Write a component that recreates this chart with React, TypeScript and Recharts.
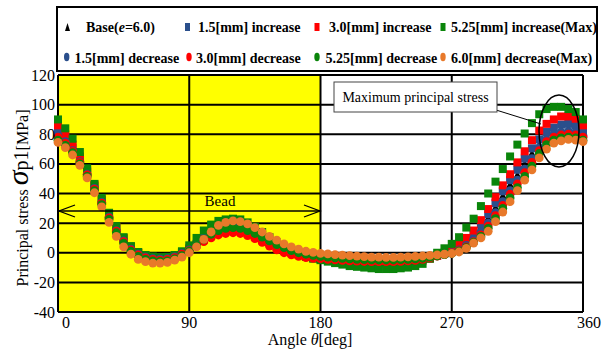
import React from "react";
import {
  ScatterChart,
  Scatter,
  XAxis,
  YAxis,
  ReferenceArea,
  ReferenceLine,
} from "recharts";

const angles = [
  0, 5, 10, 15, 20, 25, 30, 35, 40, 45, 50, 55, 60, 65, 70, 75, 80, 85, 90,
  95, 100, 105, 110, 115, 120, 125, 130, 135, 140, 145, 150, 155, 160, 165,
  170, 175, 180, 185, 190, 195, 200, 205, 210, 215, 220, 225, 230, 235, 240,
  245, 250, 255, 260, 265, 270, 275, 280, 285, 290, 295, 300, 305, 310, 315,
  320, 325, 330, 335, 340, 345, 350, 355, 360,
];

// Base(e=6.0)
const baseVals = [
  80, 75.5, 69.5, 62, 53.5, 44, 34.5, 24.5, 15.5, 8.5, 3, -0.5,
  -2.5, -3.5, -3.8, -3.5, -2.2, 0, 2.5,
  5.5, 9.5, 12.5, 14.5, 15.5, 16, 15.5, 14, 12, 9.5, 7, 4.5, 2.5, 0.5, -1, -2.2, -3,
  -3.5, -4, -4.5, -5, -5.3, -5.5, -5.8, -6, -6, -6, -6, -5.7, -5.3, -5, -4.3, -3.3, -2, -0.8,
  0.5, 3, 6.5, 11, 17, 23.5, 30.5, 38.5, 46, 52.5, 60, 67, 73, 78, 81.5, 83, 83.5, 82.5, 80,
];

const inc15 = [
  82, 77.5, 71, 63, 54.5, 45, 35.5, 25.5, 16.5, 9.5, 3.5, 0,
  -2, -3, -3.5, -3, -2, 0.3, 3,
  6, 10, 13, 15.5, 16.5, 17, 16.5, 15, 13, 10.5, 7.5, 5, 2.5, 0.5, -1, -2.3, -3.2,
  -3.8, -4.3, -4.8, -5.2, -5.6, -5.8, -6, -6.2, -6.3, -6.3, -6.2, -6, -5.6, -5.2, -4.5, -3.5, -2, -0.3,
  1.5, 4.5, 8.5, 13, 19, 26, 33.5, 41.5, 49, 56, 63.5, 70.5, 76.5, 81.5, 84.5, 86.5, 87, 86, 82,
];

const inc30 = [
  86, 80, 73, 65, 55.5, 46, 36, 26, 17.5, 10, 4, 0,
  -2, -3, -3.5, -3, -2, 0, 2.5,
  5.5, 9, 12, 14, 15, 15.5, 15, 13.5, 11.5, 9, 6.5, 4, 2, 0, -1.5, -2.7, -3.7,
  -4.3, -4.8, -5.3, -5.8, -6.2, -6.5, -6.8, -7, -7.2, -7.2, -7.2, -7, -6.7, -6.2, -5.3, -4, -2, 0,
  2.5, 6, 10, 15, 22, 29.5, 37.5, 45.5, 53, 61, 68.5, 76, 82.5, 87, 90, 92, 92, 90.5, 86,
];

const inc525 = [
  90, 84, 77, 68, 57, 46.5, 37, 27, 18, 10.5, 4.5, 0.5,
  -1.5, -2.5, -3, -2.8, -1.5, 1, 5,
  10, 15, 19, 21.5, 22.5, 23, 22.5, 20.5, 17.5, 14, 10.5, 7, 4, 1.5, -0.5, -2.5, -4,
  -5, -6, -7, -8, -9, -9.5, -10, -10.5, -11, -11, -11, -10.5, -10, -9, -7.5, -4, 0, 3,
  6, 10.5, 17, 23, 31.5, 40, 48, 56.5, 65, 73, 80.5, 87.5, 93.5, 97, 98.5, 98.5, 97, 95, 90,
];

const dec15 = [
  79, 75, 69, 61.5, 53, 43.5, 34, 24, 15, 8, 2.5, -1,
  -3, -4, -4.3, -4, -2.8, -0.5, 2,
  5, 8.5, 11.5, 13.5, 14.5, 15, 14.5, 13, 11, 8.5, 6, 3.5, 1.5, 0, -1.5, -2.5, -3.2,
  -3.5, -4, -4.3, -4.7, -5, -5.2, -5.4, -5.5, -5.5, -5.5, -5.5, -5.3, -5, -4.7, -4, -3.2, -2, -1,
  0, 2, 5, 9, 14, 20, 27, 34.5, 42, 49, 56.5, 63.5, 71, 76.5, 80, 81.5, 82, 81.5, 79,
];

const dec30 = [
  78, 74, 68.5, 61, 52.5, 43, 33.5, 23.5, 14.5, 7.5, 2, -1.5,
  -3.5, -4.5, -5, -4.5, -3.3, -1, 1.5,
  4.5, 7.5, 10, 12, 13, 13.5, 13, 11.5, 9.5, 7, 4.5, 2, 0, -1.5, -2.5, -3.3, -3.8,
  -4, -4.4, -4.8, -5.2, -5.5, -5.7, -5.9, -6, -6, -6, -6, -5.8, -5.5, -5.1, -4.5, -3.5, -2.3, -1.2,
  -0.3, 1.5, 4, 7.5, 12, 18, 25, 32, 39.5, 46.5, 54, 61, 69, 75, 78, 79.5, 80, 79.5, 78,
];

const dec525 = [
  76, 72.5, 67.5, 60, 51.5, 42, 32.5, 22.5, 13.5, 6.5, 1, -2.5,
  -4.5, -5.5, -5.8, -5.5, -4.2, -2, 1,
  5, 9, 12.5, 15, 16.5, 17, 16.5, 15, 13, 10.5, 8, 5.5, 3.5, 1.5, 0, -1, -1.8,
  -2.5, -3, -3.4, -3.8, -4.1, -4.4, -4.6, -4.8, -4.9, -4.9, -4.9, -4.7, -4.5, -4.2, -3.7, -3, -2.2, -1.3,
  -0.5, 1, 3.5, 7, 11, 16.5, 23, 30, 37, 44, 51.5, 58.5, 67, 73, 76, 77.5, 78, 77.5, 76,
];

const dec60 = [
  74.5, 71, 66, 59, 50.5, 40.5, 31, 20.5, 11, 4, -1, -4.5,
  -6, -7, -7, -6.5, -5, -3, 0,
  4, 9, 14, 18.5, 20.5, 21.5, 21, 19.5, 17, 14, 11, 8.5, 6, 4, 2.5, 1, 0.3,
  -0.4, -0.8, -1.2, -1.6, -2, -2.3, -2.6, -2.9, -3, -3.1, -3.1, -3, -2.8, -2.5, -2.2, -1.8, -1.4, -1,
  -0.5, 0.5, 3, 6.5, 10, 14.5, 21, 27.5, 34.5, 42, 49, 56, 64, 70, 74, 75.5, 76.5, 76, 75,
];

const xTicks = [0, 90, 180, 270, 360];
const yTicks = [-40, -20, 0, 20, 40, 60, 80, 100, 120];

const BLUE = "#2B4F8C";
const RED = "#FF0000";
const GREEN = "#0A850A";
const ORANGE = "#E8792A";
const FONT = "'Liberation Serif', 'Times New Roman', serif";

const toPoints = (vals: number[]) => angles.map((a, i) => ({ x: a, y: vals[i] }));

const square = (color: string) => (p: any) => (
  <rect x={p.cx - 4} y={p.cy - 4} width={8} height={8} fill={color} />
);
const dot = (color: string) => (p: any) => (
  <circle cx={p.cx} cy={p.cy} r={4.4} fill={color} />
);
const triangle = (p: any) => (
  <polygon
    points={`${p.cx},${p.cy - 4.5} ${p.cx + 4},${p.cy + 3.5} ${p.cx - 4},${p.cy + 3.5}`}
    fill="#000"
  />
);

const XTick = (props: any) => {
  const { x, y, payload } = props;
  const shift = payload.value === 0 ? 8 : payload.value === 360 ? 6 : 0;
  return (
    <text x={x + shift} y={y} dy={16} textAnchor="middle" fontSize={16} fontFamily={FONT} fill="#000">
      {payload.value}
    </text>
  );
};

const YTick = (props: any) => {
  const { x, y, payload } = props;
  return (
    <text x={x} y={y} dy={5.5} textAnchor="end" fontSize={16} fontFamily={FONT} fill="#000">
      {payload.value}
    </text>
  );
};

const legendRow1 = [
  { kind: "tri", color: "#000", mx: 67.5, tx: 86 },
  { kind: "sq", color: BLUE, mx: 187.5, tx: 198, label: "1.5[mm] increase" },
  { kind: "sq", color: RED, mx: 317, tx: 329, label: "3.0[mm] increase" },
  { kind: "sq", color: GREEN, mx: 443, tx: 451, label: "5.25[mm] increase(Max)" },
];
const legendRow2 = [
  { color: BLUE, mx: 66.7, tx: 74.5, label: "1.5[mm] decrease" },
  { color: RED, mx: 189, tx: 196, label: "3.0[mm] decrease" },
  { color: GREEN, mx: 317, tx: 325.5, label: "5.25[mm] decrease" },
  { color: ORANGE, mx: 443, tx: 451, label: "6.0[mm] decrease(Max)" },
];

function Overlay() {
  return (
    <svg
      width={614}
      height={351}
      style={{ position: "absolute", left: 0, top: 0, pointerEvents: "none" }}
      fontFamily={FONT}
    >
      {/* legend */}
      <rect x={57} y={7} width={540} height={64} fill="#fff" stroke="#000" strokeWidth={2} />
      {legendRow1.map((it, i) => (
        <g key={i}>
          {it.kind === "tri" ? (
            <polygon points={`${it.mx},23 ${it.mx + 2.5},31 ${it.mx - 2.5},31`} fill="#000" />
          ) : (
            <rect x={it.mx - 2.5} y={23} width={5} height={8} fill={it.color} />
          )}
          <text x={it.tx} y={31.5} fontSize={14} fontWeight="bold" fill="#000">
            {it.label ? (
              it.label
            ) : (
              <>
                Base(<tspan fontStyle="italic">e</tspan>=6.0)
              </>
            )}
          </text>
        </g>
      ))}
      {legendRow2.map((it, i) => (
        <g key={i}>
          <ellipse cx={it.mx} cy={57} rx={2.7} ry={4.2} fill={it.color} />
          <text x={it.tx} y={62.5} fontSize={14} fontWeight="bold" fill="#000">
            {it.label}
          </text>
        </g>
      ))}

      {/* bead arrow */}
      <line x1={59} y1={211} x2={320} y2={211} stroke="#000" strokeWidth={1.3} />
      <polyline points="75,205 59,211 75,217" fill="none" stroke="#000" strokeWidth={1.3} />
      <polyline points="304,205 320,211 304,217" fill="none" stroke="#000" strokeWidth={1.3} />
      <text x={220} y={206} fontSize={15} textAnchor="middle" fill="#000">
        Bead
      </text>

      {/* max principal stress note */}
      <line x1={496} y1={110} x2={541} y2={124} stroke="#000" strokeWidth={1} />
      <rect x={334} y={82} width={163} height={30} fill="#fff" stroke="#444" strokeWidth={1} />
      <text x={415.5} y={101.5} fontSize={14} textAnchor="middle" fill="#000">
        Maximum principal stress
      </text>
      <ellipse cx={559} cy={131} rx={20} ry={36} fill="none" stroke="#000" strokeWidth={1.5} />

      {/* axis titles */}
      <text transform="translate(28,198) rotate(-90)" textAnchor="middle" fill="#000">
        <tspan fontSize={16}>Principal stress </tspan>
        <tspan fontSize={30} fontStyle="italic">σ</tspan>
        <tspan fontSize={20}>p1</tspan>
        <tspan fontSize={16}>[MPa]</tspan>
      </text>
      <text x={310} y={345} textAnchor="middle" fontSize={16} fill="#000">
        Angle <tspan fontStyle="italic">θ</tspan>[deg]
      </text>
    </svg>
  );
}

export default function App() {
  return (
    <div style={{ position: "absolute", left: 0, top: 0, width: 614, height: 351, background: "#fff" }}>
      <ScatterChart
        width={614}
        height={351}
        margin={{ top: 75, right: 31, bottom: 14, left: 8 }}
      >
        <XAxis
          type="number"
          dataKey="x"
          domain={[0, 360]}
          ticks={xTicks}
          height={25}
          axisLine={false}
          tickLine={false}
          tickSize={0}
          tickMargin={0}
          tick={<XTick />}
          interval={0}
        />
        <YAxis
          type="number"
          dataKey="y"
          domain={[-40, 120]}
          ticks={yTicks}
          width={50}
          axisLine={false}
          tickLine={false}
          tickSize={0}
          tickMargin={3}
          tick={<YTick />}
          interval={0}
        />
        <ReferenceArea x1={0} x2={180} y1={-40} y2={120} fill="#FFFF00" fillOpacity={1} stroke="none" />
        {yTicks.map((v) => (
          <ReferenceLine key={"h" + v} y={v} stroke="#000" strokeWidth={2} />
        ))}
        {xTicks.map((v) => (
          <ReferenceLine key={"v" + v} x={v} stroke="#000" strokeWidth={2} />
        ))}
        <Scatter data={toPoints(baseVals)} shape={triangle} isAnimationActive={false} />
        <Scatter data={toPoints(inc15)} shape={square(BLUE)} isAnimationActive={false} />
        <Scatter data={toPoints(inc30)} shape={square(RED)} isAnimationActive={false} />
        <Scatter data={toPoints(inc525)} shape={square(GREEN)} isAnimationActive={false} />
        <Scatter data={toPoints(dec15)} shape={dot(BLUE)} isAnimationActive={false} />
        <Scatter data={toPoints(dec30)} shape={dot(RED)} isAnimationActive={false} />
        <Scatter data={toPoints(dec525)} shape={dot(GREEN)} isAnimationActive={false} />
        <Scatter data={toPoints(dec60)} shape={dot(ORANGE)} isAnimationActive={false} />
      </ScatterChart>
      <Overlay />
    </div>
  );
}
